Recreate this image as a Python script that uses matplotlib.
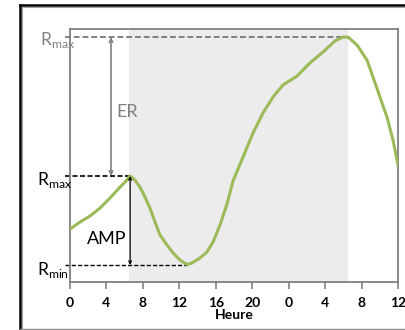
import numpy as np
import matplotlib.pyplot as plt
from matplotlib.lines import Line2D

# courbe (heures depuis minuit, valeur relative)
hours = [0, 1.10, 2.20, 3.29, 4.39, 5.49, 6.04, 6.59, 7.13, 7.68, 8.23, 8.78,
         9.33, 9.88, 10.65, 11.31, 12.07, 12.84, 13.39, 14.27, 15.04, 15.70,
         16.46, 17.23, 17.89, 18.99, 20.09, 21.18, 22.28, 23.38, 24.92, 26.34,
         27.77, 29.09, 29.96, 30.51, 31.50, 32.60, 33.26, 34.02, 34.79, 35.45,
         35.89, 36.0]
values = [20.9, 23.7, 26.1, 29.2, 33.2, 37.5, 39.5, 41.9, 40.3, 37.5, 33.6,
          29.2, 23.7, 18.6, 14.6, 11.5, 8.7, 6.9, 7.5, 9.5, 11.9, 15.8, 22.5,
          30.8, 39.9, 49.4, 58.9, 66.8, 73.1, 77.9, 81.4, 86.6, 90.9, 95.3,
          96.8, 96.8, 93.7, 87.7, 81.0, 73.1, 65.2, 56.1, 48.2, 46.2]

tick_pos = [0, 4, 8, 12, 16, 20, 24, 28, 32, 36]
tick_lab = ['0', '4', '8', '12', '16', '20', '0', '4', '8', '12']

night = (6.5, 30.5)       # zone grisee
r_max_1 = 41.9           # Rmax du premier jour
r_min = 6.7
r_max_2 = 96.8

plt.rcParams['font.family'] = ['Lato', 'DejaVu Sans']
plt.rcParams['mathtext.fontset'] = 'custom'
plt.rcParams['mathtext.rm'] = 'Lato'

fig = plt.figure(figsize=(4.06, 3.3), dpi=100)
ax = fig.add_axes([70/406, 48/330, 328/406, 253/330])

ax.axvspan(night[0], night[1], color='#ececec', lw=0, zorder=0)
ax.plot(hours, values, color='#9bbb59', lw=2.2, zorder=3, solid_joinstyle='round')

ax.set_xlim(0, 36)
ax.set_ylim(0, 100)
ax.set_yticks([])
ax.set_xticks(tick_pos)
ax.set_xticklabels(tick_lab, fontsize=10, fontweight='bold')
ax.tick_params(axis='x', direction='out', length=5, width=1.2, color='#808080', pad=6)
for s in ax.spines.values():
    s.set_color('#808080')
    s.set_linewidth(1.3)
ax.set_xlabel('Heure', fontsize=10, fontweight='bold', labelpad=0)

# lignes pointillees de repere
ax.plot([-0.6, night[1]], [r_max_2, r_max_2], ls=(0, (3, 1.5)), color='#808080',
        lw=1.4, clip_on=False, zorder=2)
ax.plot([-0.6, 6.5], [r_max_1, r_max_1], ls=(0, (3, 1.5)), color='black',
        lw=1.2, clip_on=False, zorder=2)
ax.plot([-0.6, 12.8], [r_min, r_min], ls=(0, (3, 1.5)), color='black',
        lw=1.0, clip_on=False, zorder=2)

# fleches ER et AMP
ax.annotate('', xy=(4.5, r_max_2), xytext=(4.5, r_max_1),
            arrowprops=dict(arrowstyle='<->', color='#808080', lw=1.2,
                            mutation_scale=6, shrinkA=0, shrinkB=0))
ax.annotate('', xy=(6.6, r_max_1), xytext=(6.6, r_min),
            arrowprops=dict(arrowstyle='<->', color='black', lw=0.9,
                            mutation_scale=5, shrinkA=0, shrinkB=0))

ax.text(-3.3, 93.7, r'R$_{\mathregular{max}}$', color='#808080', fontsize=12.5,
        va='baseline', clip_on=False)
ax.text(-3.65, 38.3, r'R$_{\mathregular{max}}$', color='black', fontsize=12.5,
        va='baseline', clip_on=False)
ax.text(-3.65, 2.8, r'R$_{\mathregular{min}}$', color='black', fontsize=12.5,
        va='baseline', clip_on=False)
ax.text(5.05, 65.2, 'ER', color='#808080', fontsize=13, va='baseline')
ax.text(1.85, 15.0, 'AMP', color='black', fontsize=13, va='baseline')

# cadre autour de la figure
fig.add_artist(Line2D([20.5/406, 20.5/406], [0, 325/330], color='black', lw=1.8))
fig.add_artist(Line2D([20/406, 1], [325/330, 325/330], color='black', lw=1.8))
fig.add_artist(Line2D([22.5/406, 22.5/406], [0, 323/330], color='#a0a0a0', lw=0.8))
fig.add_artist(Line2D([22/406, 1], [323/330, 323/330], color='#a0a0a0', lw=0.8))
fig.add_artist(Line2D([20/406, 1], [1.5/330, 1.5/330], color='#909090', lw=1.0))

fig.savefig('out.png', dpi=100)
